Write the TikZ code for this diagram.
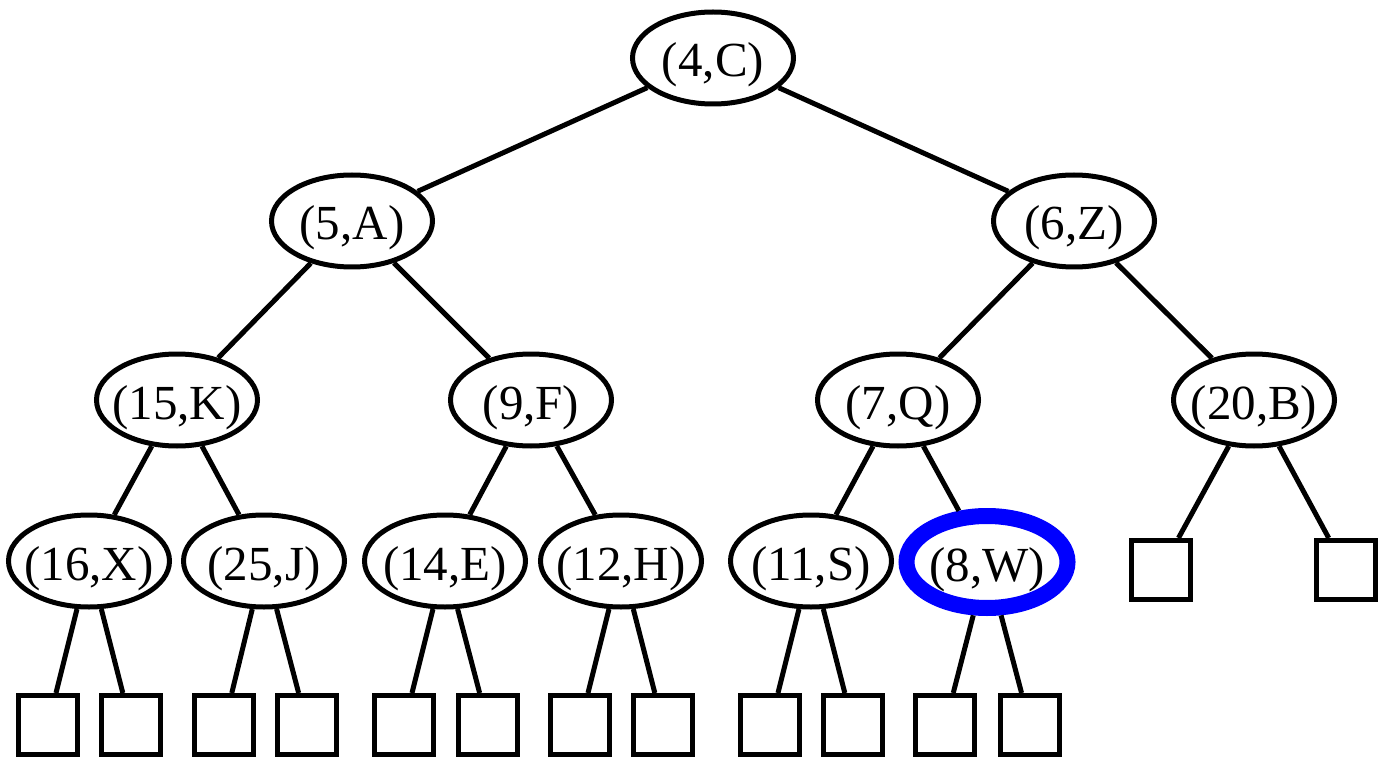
\documentclass[tikz,border=0pt]{standalone}
\usepackage{fontspec}
\setmainfont{Liberation Serif}
\usetikzlibrary{shapes.geometric}
% label set on a zero-size box, baseline 19pt below the node centre,
% so the ellipse keeps its fixed size
\newcommand\pairtxt[1]{\raisebox{-19pt}[0pt][0pt]{\makebox[0pt]{#1}}}
\begin{document}
\begin{tikzpicture}[x=1pt,y=-1pt,
  entry/.style={ellipse, draw, line width=5pt, minimum width=161pt, minimum height=92pt,
    inner sep=0pt, font=\fontsize{49}{58}\selectfont},
  hit/.style={entry, draw=blue, line width=16pt},
  leaf/.style={rectangle, draw, line width=5pt, minimum size=59pt, inner sep=0pt},
  link/.style={line width=5pt}]
\useasboundingbox (0,0) rectangle (1389,759);

% internal entries (key, value)
\node[entry] (r) at (713,58)  {\pairtxt{(4,C)}};
\node[entry] (a) at (352,221) {\pairtxt{(5,A)}};
\node[entry] (z) at (1074,221) {\pairtxt{(6,Z)}};
\node[entry] (k) at (177,400) {\pairtxt{(15,K)}};
\node[entry] (f) at (531,400) {\pairtxt{(9,F)}};
\node[entry] (q) at (898,400) {\pairtxt{(7,Q)}};
\node[entry] (b) at (1254,400) {\pairtxt{(20,B)}};
\node[entry] (x) at (89,561)  {\pairtxt{(16,X)}};
\node[entry] (j) at (264,561) {\pairtxt{(25,J)}};
\node[entry] (e) at (445,561) {\pairtxt{(14,E)}};
\node[entry] (h) at (621,561) {\pairtxt{(12,H)}};
\node[entry] (s) at (811,561) {\pairtxt{(11,S)}};
\node[hit]   (w) at (987,562) {\pairtxt{(8,W)}};

% external (empty) leaves
\node[leaf] (b1) at (1161,570) {};
\node[leaf] (b2) at (1346,570) {};
\node[leaf] (x1) at (48,725)  {};
\node[leaf] (x2) at (131,725) {};
\node[leaf] (j1) at (224,725) {};
\node[leaf] (j2) at (307,725) {};
\node[leaf] (e1) at (404,725) {};
\node[leaf] (e2) at (488,725) {};
\node[leaf] (h1) at (580,725) {};
\node[leaf] (h2) at (663,725) {};
\node[leaf] (s1) at (770,725) {};
\node[leaf] (s2) at (853,725) {};
\node[leaf] (w1) at (945,725) {};
\node[leaf] (w2) at (1030,725) {};

% tree edges
\draw[link] (r) -- (a);  \draw[link] (r) -- (z);
\draw[link] (a) -- (k);  \draw[link] (a) -- (f);
\draw[link] (z) -- (q);  \draw[link] (z) -- (b);
\draw[link] (k) -- (x);  \draw[link] (k) -- (j);
\draw[link] (f) -- (e);  \draw[link] (f) -- (h);
\draw[link] (q) -- (s);  \draw[link] (q) -- (w);
\draw[link] (b) -- (b1); \draw[link] (b) -- (b2);
\draw[link] (x) -- (x1); \draw[link] (x) -- (x2);
\draw[link] (j) -- (j1); \draw[link] (j) -- (j2);
\draw[link] (e) -- (e1); \draw[link] (e) -- (e2);
\draw[link] (h) -- (h1); \draw[link] (h) -- (h2);
\draw[link] (s) -- (s1); \draw[link] (s) -- (s2);
\draw[link] (w) -- (w1); \draw[link] (w) -- (w2);
\end{tikzpicture}
\end{document}
